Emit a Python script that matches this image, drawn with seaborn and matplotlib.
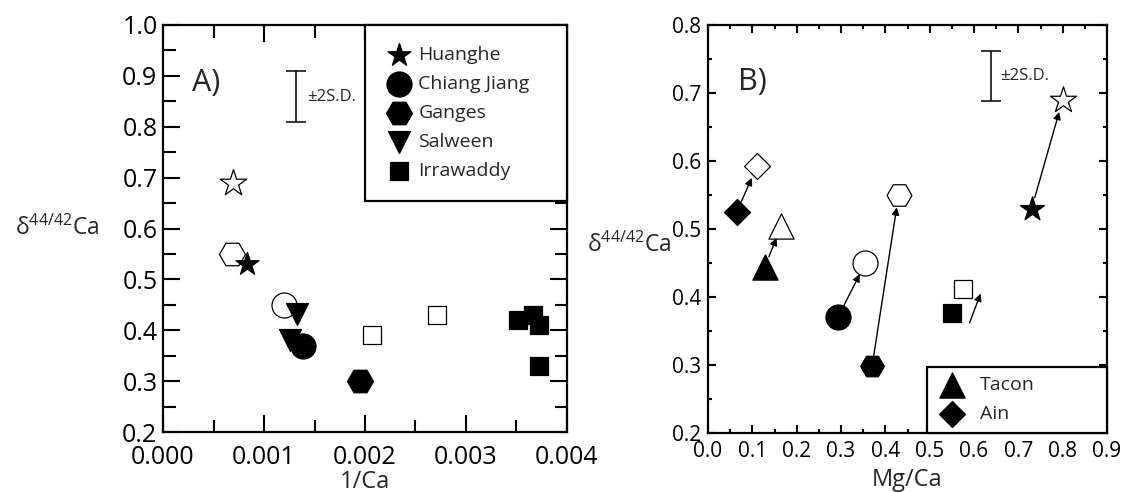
import pandas as pd
import seaborn as sns
import matplotlib.pyplot as plt
from matplotlib.ticker import MultipleLocator, FormatStrFormatter

# ---- data ----
rivers_a = ["Huanghe", "Chiang Jiang", "Ganges", "Salween", "Irrawaddy"]
rivers_b = ["Tacon", "Ain"]

# panel A: d44/42Ca vs 1/Ca (open = second symbol set, filled = measured)
a_river = ["Huanghe", "Ganges", "Chiang Jiang", "Irrawaddy", "Irrawaddy",
           "Huanghe", "Salween", "Salween", "Chiang Jiang", "Ganges",
           "Irrawaddy", "Irrawaddy", "Irrawaddy", "Irrawaddy"]
a_filled = [False, False, False, False, False,
            True, True, True, True, True,
            True, True, True, True]
a_inv_ca = [0.00069, 0.00068, 0.00120, 0.00207, 0.00271,
            0.00083, 0.00133, 0.00126, 0.00139, 0.00195,
            0.00351, 0.00366, 0.00372, 0.00372]
a_d44 = [0.69, 0.55, 0.45, 0.39, 0.43,
         0.53, 0.432, 0.381, 0.37, 0.30,
         0.42, 0.43, 0.41, 0.33]

# panel B: d44/42Ca vs Mg/Ca
b_river = ["Ain", "Tacon", "Chiang Jiang", "Ganges", "Irrawaddy", "Huanghe",
           "Ain", "Tacon", "Chiang Jiang", "Ganges", "Irrawaddy", "Huanghe"]
b_filled = [False] * 6 + [True] * 6
b_mg_ca = [0.11, 0.165, 0.355, 0.43, 0.575, 0.80,
           0.065, 0.128, 0.293, 0.37, 0.55, 0.73]
b_d44 = [0.592, 0.504, 0.45, 0.55, 0.412, 0.69,
         0.525, 0.444, 0.37, 0.298, 0.376, 0.53]

# arrows filled -> open in panel B (pairs by river)
b_arrow_rivers = ["Ain", "Tacon", "Chiang Jiang", "Ganges", "Huanghe"]
b_irr_arrow_start = (0.59, 0.362)
b_irr_arrow_end = (0.615, 0.405)

# +-2 S.D. bars: (x, y centre, half-length)
a_sd = (0.00132, 0.859, 0.05)
b_sd = (0.638, 0.725, 0.037)

# ---- styling ----
sns.set_style("ticks")
plt.rcParams['font.family'] = ['Open Sans', 'DejaVu Sans']
plt.rcParams['mathtext.fontset'] = 'custom'
plt.rcParams['mathtext.rm'] = 'Open Sans'
plt.rcParams['mathtext.it'] = 'Open Sans:italic'

markers = {"Huanghe": "*", "Chiang Jiang": "o", "Ganges": "H",
           "Salween": "v", "Irrawaddy": "s", "Tacon": "^", "Ain": "D"}
sizes_a = {"*": (300, 400), "o": (324, 324), "H": (350, 350),
           "v": (250, 250), "s": (185, 170)}
sizes_b = {"*": (330, 390), "o": (324, 324), "H": (290, 320),
           "^": (330, 330), "D": (175, 175), "s": (170, 160)}

df_a = pd.DataFrame({"river": a_river, "filled": a_filled, "x": a_inv_ca, "y": a_d44})
df_b = pd.DataFrame({"river": b_river, "filled": b_filled, "x": b_mg_ca, "y": b_d44})


def draw_points(ax, df, sizes):
    handles = {}
    for (name, filled), grp in df.groupby(["river", "filled"], sort=False):
        m = markers[name]
        s = sizes[m][0] if filled else sizes[m][1]
        sns.scatterplot(data=grp, x="x", y="y", marker=m, s=s,
                        color="black" if filled else "white",
                        edgecolor="black", linewidth=0.9, ax=ax, zorder=3)
        if filled:
            handles[name] = ax.collections[-1]
    return handles


def style_axes(ax, major_len, minor_len):
    for sp in ax.spines.values():
        sp.set_linewidth(1.6)
        sp.set_color("black")
    ax.tick_params(which="both", direction="in", top=True, right=True,
                   width=1.5, colors="black")
    ax.tick_params(which="major", length=major_len)
    ax.tick_params(which="minor", length=minor_len)


def sd_bar(ax, sd, label, dx):
    x, y, e = sd
    ax.errorbar([x], [y], yerr=[e], fmt="none", ecolor="black",
                elinewidth=1.1, capsize=7, capthick=1.1)
    ax.text(x + dx, y, label, fontsize=12, va="center", ha="left")


fig = plt.figure(figsize=(11.33, 4.92), dpi=100)

# ---- panel A ----
ax1 = fig.add_axes([163 / 1133, 60 / 492, 404 / 1133, 407 / 492])
h1 = draw_points(ax1, df_a, sizes_a)
ax1.set_xlim(0, 0.004)
ax1.set_ylim(0.2, 1.0)
ax1.xaxis.set_major_locator(MultipleLocator(0.001))
ax1.xaxis.set_minor_locator(MultipleLocator(0.0005))
ax1.yaxis.set_major_locator(MultipleLocator(0.1))
ax1.yaxis.set_minor_locator(MultipleLocator(0.05))
ax1.xaxis.set_major_formatter(FormatStrFormatter("%.3f"))
ax1.yaxis.set_major_formatter(FormatStrFormatter("%.1f"))
style_axes(ax1, 12, 9)
ax1.tick_params(axis="both", labelsize=18)
ax1.tick_params(axis="y", pad=4)
ax1.tick_params(axis="x", pad=9.5)
ax1.set_xlabel("1/Ca", fontsize=17, labelpad=-0.5)
ax1.set_ylabel("δ$^{44/42}$Ca", fontsize=16.5, rotation=0, ha="center", va="center")
ax1.yaxis.set_label_coords(-0.262, 0.5)
ax1.text(0.000287, 0.886, "A)", fontsize=22, va="center", ha="left")
sd_bar(ax1, a_sd, "±2S.D.", 0.00011)
leg1 = ax1.legend([h1[r] for r in rivers_a], rivers_a,
                  loc="upper left", bbox_to_anchor=(202 / 404, 0, 202 / 404, 1),
                  mode="expand", borderaxespad=0, fontsize=14, frameon=True,
                  fancybox=False, edgecolor="black", framealpha=1,
                  labelspacing=0.56, handletextpad=0.35, borderpad=1.1,
                  handlelength=1.3)
leg1.get_frame().set_linewidth(1.6)
leg1.set_zorder(5)

# ---- panel B ----
ax2 = fig.add_axes([708 / 1133, 59 / 492, 399 / 1133, 408 / 492])
h2 = draw_points(ax2, df_b, sizes_b)
ax2.set_xlim(0, 0.9)
ax2.set_ylim(0.2, 0.8)
ax2.xaxis.set_major_locator(MultipleLocator(0.1))
ax2.xaxis.set_minor_locator(MultipleLocator(0.05))
ax2.yaxis.set_major_locator(MultipleLocator(0.1))
ax2.yaxis.set_minor_locator(MultipleLocator(0.05))
ax2.xaxis.set_major_formatter(FormatStrFormatter("%.1f"))
ax2.yaxis.set_major_formatter(FormatStrFormatter("%.1f"))
style_axes(ax2, 6, 3)
ax2.tick_params(axis="both", labelsize=15)
ax2.tick_params(axis="y", pad=5)
ax2.tick_params(axis="x", pad=6)
ax2.set_xlabel("Mg/Ca", fontsize=17, labelpad=4)
ax2.set_ylabel("δ$^{44/42}$Ca", fontsize=16.5, rotation=0, ha="center", va="center")
ax2.yaxis.set_label_coords(-0.198, 0.46)
ax2.text(0.068, 0.716, "B)", fontsize=22, va="center", ha="left")
sd_bar(ax2, b_sd, "±2S.D.", 0.02)

for r in b_arrow_rivers:
    f = df_b[(df_b.river == r) & df_b.filled].iloc[0]
    o = df_b[(df_b.river == r) & ~df_b.filled].iloc[0]
    ax2.annotate("", xy=(o.x, o.y), xytext=(f.x, f.y),
                 arrowprops=dict(arrowstyle="-|>", color="black", lw=1,
                                 mutation_scale=11, shrinkA=8, shrinkB=9),
                 zorder=2)
ax2.annotate("", xy=b_irr_arrow_end, xytext=b_irr_arrow_start,
             arrowprops=dict(arrowstyle="-|>", color="black", lw=1,
                             mutation_scale=11, shrinkA=0, shrinkB=0))

leg2 = ax2.legend([h2[r] for r in rivers_b], rivers_b,
                  loc="lower left", bbox_to_anchor=(219 / 399, 0, 180 / 399, 1),
                  mode="expand", borderaxespad=0, fontsize=14, frameon=True,
                  fancybox=False, edgecolor="black", framealpha=1,
                  labelspacing=0.56, handletextpad=0.6, borderpad=0.5,
                  handlelength=1.6)
leg2.get_frame().set_linewidth(1.6)
leg2.set_zorder(5)

fig.savefig("out.png", dpi=100)
